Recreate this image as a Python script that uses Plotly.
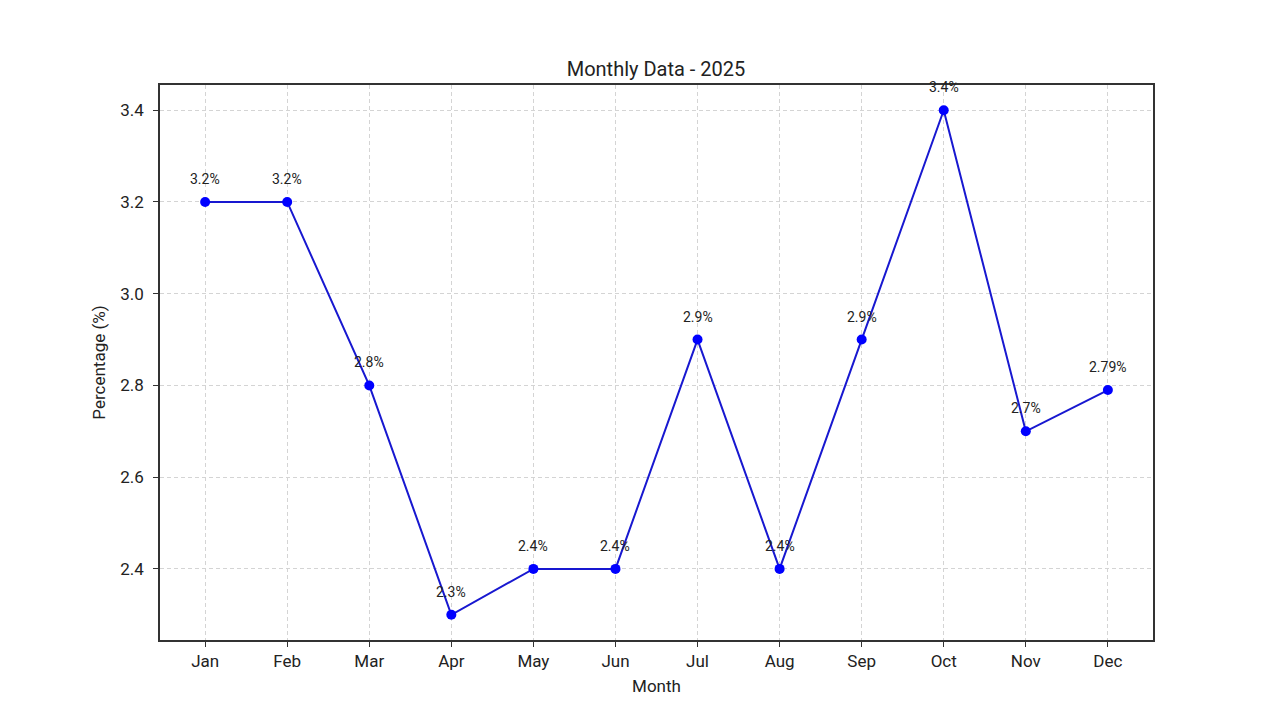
import plotly.graph_objects as go

months = ["Jan", "Feb", "Mar", "Apr", "May", "Jun", "Jul", "Aug", "Sep", "Oct", "Nov", "Dec"]
values = [3.2, 3.2, 2.8, 2.3, 2.4, 2.4, 2.9, 2.4, 2.9, 3.4, 2.7, 2.79]
labels = ["3.2%", "3.2%", "2.8%", "2.3%", "2.4%", "2.4%", "2.9%", "2.4%", "2.9%", "3.4%", "2.7%", "2.79%"]
y_ticks = [2.4, 2.6, 2.8, 3.0, 3.2, 3.4]

FONT = "Roboto, Open Sans, sans-serif"
fig = go.Figure()
fig.add_trace(go.Scatter(
    x=list(range(len(months))), y=values, mode="lines+markers",
    line=dict(color="#1818d0", width=2),
    marker=dict(color="#0000ff", size=10),
    showlegend=False, hoverinfo="skip",
))
for i, (v, t) in enumerate(zip(values, labels)):
    fig.add_annotation(x=i, y=v, text=t, showarrow=False, yshift=23,
                       font=dict(size=14, color="#222222", family=FONT))

axis_common = dict(showline=True, linecolor="#333333", linewidth=1.5, mirror=True,
                   showgrid=True, gridcolor="#d4d4d4", griddash="4px,3px", gridwidth=1,
                   ticks="outside", ticklen=5, tickcolor="#333333", zeroline=False,
                   automargin=False,
                   tickfont=dict(size=17, color="#222222", family=FONT))
fig.update_xaxes(tickmode="array", tickvals=list(range(len(months))), ticktext=months,
                 range=[-0.55, 11.55], title=dict(text="Month", font=dict(size=17, family=FONT, color="#222222"), standoff=10),
                 **axis_common)
fig.update_yaxes(tickmode="array", tickvals=y_ticks, ticktext=[f"{t:.1f}" for t in y_ticks],
                 range=[2.245, 3.455], ticklabelstandoff=6,
                 title=dict(text="Percentage (%)", font=dict(size=17, family=FONT, color="#222222"), standoff=10),
                 **axis_common)
fig.update_layout(
    width=1280, height=720, plot_bgcolor="white", paper_bgcolor="white",
    margin=dict(l=152, r=135, t=77, b=88),
    title=dict(text="Monthly Data - 2025", x=(656 - 8) / 1280, xanchor="center", y=1 - 61/720, yanchor="middle",
               font=dict(size=20, family=FONT, color="#222222")),
)
fig.write_html("out.html")
